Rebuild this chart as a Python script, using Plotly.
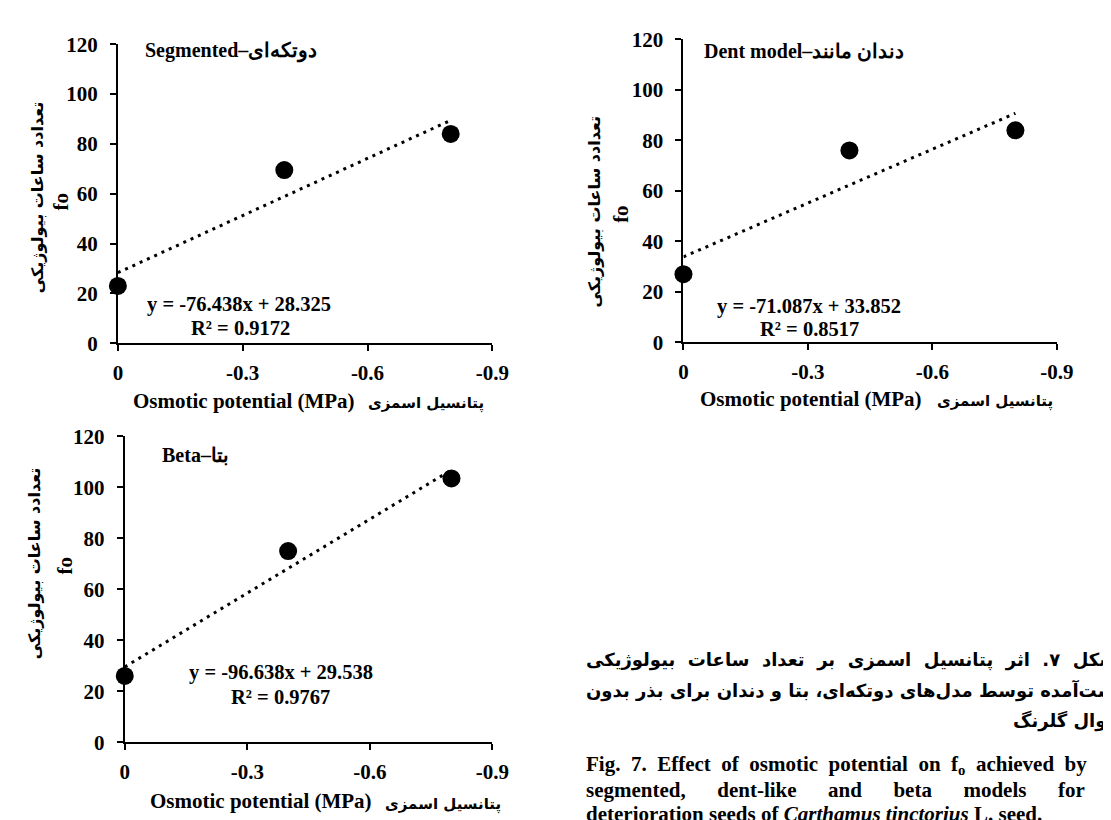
import plotly.graph_objects as go

# ---- data ----
osmotic = [0, -0.4, -0.8]
seg_fo = [23, 69.5, 84]
dent_fo = [27, 76, 84]
beta_fo = [26, 75, 103.5]

seg_fit = (-76.438, 28.325, 0.9172)
dent_fit = (-71.087, 33.852, 0.8517)
beta_fit = (-96.638, 29.538, 0.9767)

x_ticks = [0, -0.3, -0.6, -0.9]
x_tick_labels = ["0", "-0.3", "-0.6", "-0.9"]
y_ticks = [0, 20, 40, 60, 80, 100, 120]

panel_titles = ["Segmented\u2013دوتکه‌ای", "Dent model\u2013دندان مانند", "Beta\u2013بتا"]

W, H = 1111, 820
SERIF = "Liberation Serif, Times New Roman, serif"
FA = "DejaVu Sans, sans-serif"

# pixel boxes of the three plot areas: (x0, x1, ytop, ybottom)
boxes = [(107, 489, 25, 333), (684, 1065, 20, 332), (114, 489, 429, 744)]

fig = go.Figure()

panels = [(seg_fo, seg_fit), (dent_fo, dent_fit), (beta_fo, beta_fit)]

def px2x(p):
    return p / W

def px2y(p):
    return 1 - p / H

for i, ((vals, fit), box) in enumerate(zip(panels, boxes)):
    n = "" if i == 0 else str(i + 1)
    xa, ya = "x" + n, "y" + n
    slope, icpt, r2 = fit
    fx = [osmotic[0], osmotic[-1]]
    fy = [slope * v + icpt for v in fx]
    fig.add_trace(go.Scatter(x=fx, y=fy, mode="lines", xaxis=xa, yaxis=ya,
                             line=dict(color="black", width=3, dash="3px,5px"),
                             showlegend=False, hoverinfo="skip", cliponaxis=False))
    fig.add_trace(go.Scatter(x=osmotic, y=vals, mode="markers", xaxis=xa, yaxis=ya,
                             marker=dict(color="black", size=18),
                             showlegend=False, cliponaxis=False))
    x0, x1, yt, yb = box
    axcommon = dict(showline=True, linecolor="black", linewidth=2, ticks="outside",
                    tickwidth=2, ticklen=6, tickcolor="black", showgrid=False, zeroline=False,
                    tickfont=dict(family=SERIF, size=21, color="black", weight="bold"))
    fig.layout["xaxis" + n] = dict(domain=[px2x(x0), px2x(x1)], range=[0, -0.9],
                                   tickvals=x_ticks, ticktext=x_tick_labels,
                                   anchor=ya, ticklabelstandoff=4, **axcommon)
    fig.layout["yaxis" + n] = dict(domain=[px2y(yb), px2y(yt)], range=[0, 120],
                                   tickvals=y_ticks, anchor=xa, ticklabelstandoff=8, **axcommon)

# ---- annotations (pixel positions) ----
def ann(text, x, y, size=20, family=SERIF, xanchor="center", yanchor="middle", angle=0, bold=True):
    fig.add_annotation(text=text, x=px2x(x), y=px2y(y), xref="paper", yref="paper",
                       xanchor=xanchor, yanchor=yanchor, showarrow=False, textangle=angle,
                       font=dict(family=family, size=size, color="black",
                                 weight="bold" if bold else "normal"))

# panel titles
ann(panel_titles[0], 133, 32, size=20, xanchor="left")
ann(panel_titles[1], 703, 32, size=20, xanchor="left")
ann(panel_titles[2], 150, 448, size=20, xanchor="left")

# equations
fits = [seg_fit, dent_fit, beta_fit]
eq_pos = [(231, 293, 232, 317), (812, 295, 813, 318), (273, 672, 273, 697)]
for fit, (ex, ey, rx, ry) in zip(fits, eq_pos):
    s, c, r = fit
    ann(f"y = {s:.3f}x + {c:.3f}", ex, ey, size=20.5)
    ann(f"R² = {r:.4f}", rx, ry, size=20.5)

# axis titles
xt_pos = [(236, 392, 483, 395), (814, 390, 1063, 393), (253, 805, 500, 808)]
for (ex, ey, px_, py_) in xt_pos:
    ann("Osmotic potential (MPa)", ex, ey, size=21)
    ann("پتانسیل اسمزی", px_, py_, size=15, family=FA, xanchor="right")

yt_pos = [(25, 183, 48, 187), (593, 198, 620, 200), (22, 560, 53, 562)]
for (px_, py_, fx_, fy_) in yt_pos:
    ann("تعدادد ساعات بیولوژیکی", px_, py_, size=16, family=FA, angle=-90)
    ann("fo", fx_, fy_, size=21, angle=-90)

# caption (Persian lines run past the right edge, as in the source page)
S2 = "\u00a0\u00a0"
ann(S2.join("شکل ۷. اثر پتانسیل اسمزی بر تعداد ساعات بیولوژیکی".split(" ")), 583, 659, size=18, family=FA, xanchor="left")
ann("به‌دست‌آمده توسط مدل‌های دوتکه‌ای، بتا و دندان برای بذر بدون", 583, 691, size=18, family=FA, xanchor="left")
ann("زوال گلرنگ.", 1018, 722, size=18, family=FA, xanchor="left")
E2 = "\u00a0\u00a0"
E6 = "\u00a0" * 6
ann(E2.join(["Fig.", "7.", "Effect", "of", "osmotic", "potential", "on", "f<sub>o</sub>", "achieved", "by"]), 583, 767, size=21, xanchor="left")
ann(E6.join(["segmented,", "dent-like", "and", "beta", "models", "for", "non-"]), 583, 793, size=21, xanchor="left")
ann("deterioration seeds of <i>Carthamus tinctorius</i> L. seed.", 583, 818, size=21, xanchor="left")

fig.update_layout(width=W, height=H, margin=dict(l=0, r=0, t=0, b=0),
                  paper_bgcolor="white", plot_bgcolor="white")

fig.write_html("out.html")
